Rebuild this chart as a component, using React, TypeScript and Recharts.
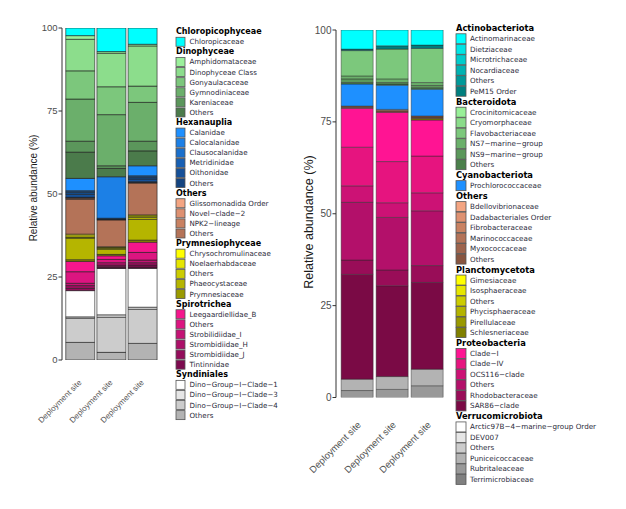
import { BarChart, Bar, XAxis, YAxis } from 'recharts'

const siteLabels = ['Deployment site', 'Deployment site', 'Deployment site']
const siteKeys = ['site1', 'site2', 'site3']
const yTicks = [0, 25, 50, 75, 100]

// left panel: eukaryotic families
const euGroups = ['Chloropicophyceae', 'Dinophyceae', 'Hexanauplia', 'Others', 'Prymnesiophyceae', 'Spirotrichea', 'Syndiniales']
const euFamilies = [
  ['Chloropicaceae'],
  ['Amphidomataceae', 'Dinophyceae Class', 'Gonyaulacaceae', 'Gymnodiniaceae', 'Kareniaceae', 'Others'],
  ['Calanidae', 'Calocalanidae', 'Clausocalanidae', 'Metridinidae', 'Oithonidae', 'Others'],
  ['Glissomonadida Order', 'Novel−clade−2', 'NPK2−lineage', 'Others'],
  ['Chrysochromulinaceae', 'Noelaerhabdaceae', 'Others', 'Phaeocystaceae', 'Prymnesiaceae'],
  ['Leegaardiellidae_B', 'Others', 'Strobilidiidae_I', 'Strombidiidae_H', 'Strombidiidae_J', 'Tintinnidae'],
  ['Dino−Group−I−Clade−1', 'Dino−Group−I−Clade−3', 'Dino−Group−I−Clade−4', 'Others'],
]
const euSite1 = [
  2.3,
  1.1, 9.5, 8.5, 12.7, 3.3, 7.9,
  3.7, 0.3, 0.3, 0.5, 0.9, 0,
  0.1, 0.2, 0.3, 10.5,
  0.5, 0.5, 0.2, 6.5, 0.5,
  3.1, 3.5, 0.7, 0.8, 0.7, 0,
  7.9, 0.4, 7.3, 5.3,
]
const euSite2 = [
  7.1,
  0.5, 10.1, 8.4, 15.4, 0.8, 2.5,
  0, 12.5, 0.2, 0.1, 0.2, 0,
  0, 0, 0, 8.1,
  0.2, 0.2, 0.3, 1.6, 0.4,
  1.1, 1.0, 0.7, 0.5, 0.3, 0.2,
  14.0, 0.7, 10.6, 2.3,
]
const euSite3 = [
  4.9,
  0.5, 12.1, 4.9, 11.7, 2.9, 4.5,
  3.0, 0.3, 0.3, 0.4, 0.8, 0.2,
  0, 0, 0.2, 9.6,
  0.3, 0.4, 0.6, 6.3, 0.6,
  3.1, 2.3, 0.8, 0.7, 0.6, 0.4,
  11.7, 0.6, 10.3, 5.0,
]
const euColors = [
  '#00FFFF',
  '#9BF09B', '#8CDD8C', '#7CC77C', '#6BAF6B', '#5B965B', '#4B7B4B',
  '#1E90FF', '#1C80E6', '#1A70CC', '#1860B3', '#165199', '#144480',
  '#F4A582', '#DE9171', '#C98262', '#B47358',
  '#FFFF00', '#E6E600', '#CCCC00', '#B5B500', '#9A9A00',
  '#F5168C', '#DC1580', '#C41374', '#AC1068', '#940D5B', '#7C0A4E',
  '#FFFFFF', '#E6E6E6', '#CCCCCC', '#B3B3B3',
]

// right panel: prokaryotic families
const proGroups = ['Actinobacteriota', 'Bacteroidota', 'Cyanobacteriota', 'Others', 'Planctomycetota', 'Proteobacteria', 'Verrucomicrobiota']
const proFamilies = [
  ['Actinomarinaceae', 'Dietziaceae', 'Microtrichaceae', 'Nocardiaceae', 'Others', 'PeM15 Order'],
  ['Crocinitomicaceae', 'Cryomorphaceae', 'Flavobacteriaceae', 'NS7−marine−group', 'NS9−marine−group', 'Others'],
  ['Prochlorococcaceae'],
  ['Bdellovibrionaceae', 'Dadabacteriales Order', 'Fibrobacteraceae', 'Marinococcaceae', 'Myxococcaceae', 'Others'],
  ['Gimesiaceae', 'Isosphaeraceae', 'Others', 'Phycisphaeraceae', 'Pirellulaceae', 'Schlesneriaceae'],
  ['Clade−I', 'Clade−IV', 'OCS116−clade', 'Others', 'Rhodobacteraceae', 'SAR86−clade'],
  ['Arctic97B−4−marine−group Order', 'DEV007', 'Others', 'Puniceicoccaceae', 'Rubritaleaceae', 'Terrimicrobiaceae'],
]
const proSite1 = [
  5.2, 0, 0, 0, 0, 0.4,
  0, 0, 6.9, 0.8, 1.0, 0.4,
  6.0,
  0, 0, 0, 0, 0.3, 0.3,
  0, 0, 0, 0, 0, 0,
  10.6, 10.5, 4.5, 15.7, 3.9, 28.5,
  0, 0, 0, 3.1, 1.9, 0,
]
const proSite2 = [
  4.3, 0, 0, 0, 0, 0.9,
  0, 0, 8.1, 1.0, 0.4, 0.3,
  6.6,
  0, 0, 0, 0, 0.4, 0.4,
  0, 0, 0, 0, 0, 0,
  13.4, 11.2, 4.0, 14.3, 4.3, 24.7,
  0, 0, 0, 3.5, 2.2, 0,
]
const proSite3 = [
  4.1, 0, 0, 0, 0, 0.9,
  0, 0, 9.3, 0.8, 0.6, 0.4,
  7.3,
  0, 0, 0, 0, 0.3, 0.4,
  0, 0, 0, 0, 0, 0.4,
  9.8, 10.0, 4.9, 14.9, 4.6, 23.6,
  0, 0, 0, 4.5, 3.2, 0,
]
const proColors = [
  '#00FFFF', '#00E5E5', '#00CCCC', '#00B2B2', '#009999', '#007F7F',
  '#98F098', '#8ADC8A', '#7CC87C', '#6BB06B', '#5B985B', '#4B804B',
  '#1E90FF',
  '#F4A582', '#DE9171', '#C98262', '#B47358', '#9E644D', '#885540',
  '#FFFF00', '#E6E600', '#CCCC00', '#B3B300', '#999900', '#808000',
  '#FF1493', '#E6147F', '#CC1275', '#B3106A', '#990D58', '#7A0A45',
  '#FFFFFF', '#E6E6E6', '#CCCCCC', '#B3B3B3', '#999999', '#808080',
]

const taxonKeys = (families: string[][]) =>
  families.flatMap((fams, g) => fams.map((f, i) => `g${g}_${i}`))

const buildRows = (families: string[][], sites: number[][]) => {
  const keys = taxonKeys(families)
  return siteKeys.map((site, s) => {
    const row: Record<string, any> = { site }
    keys.forEach((k, j) => {
      row[k] = sites[s][j]
    })
    return row
  })
}

const SiteTick = (props: any) => {
  const { x, y, index, dx, dy, size } = props
  const tx = x + dx
  const ty = y + dy
  return (
    <text
      x={tx}
      y={ty}
      transform={`rotate(-45, ${tx}, ${ty})`}
      textAnchor="end"
      fontSize={size}
      fill="#555"
    >
      {siteLabels[index]}
    </text>
  )
}

interface PanelProps {
  families: string[][]
  sites: number[][]
  colors: string[]
  margin: { top: number; right: number; bottom: number; left: number }
  yWidth: number
  padLeft: number
  gap: number
  tickSize: number
  labelSize: number
  labelDx: number
  labelDy: number
  stroke: string
  strokeWidth: number
}

const Panel = (p: PanelProps) => {
  const keys = taxonKeys(p.families)
  const rows = buildRows(p.families, p.sites)
  // ggplot stacks the first legend entry on top, so draw from the bottom up
  const order = keys.map((k, j) => j).reverse()
  return (
    <div style={{ position: 'absolute', left: 0, top: 0 }}>
      <BarChart width={626} height={509} data={rows} margin={p.margin} barCategoryGap={p.gap}>
        <XAxis
          dataKey="site"
          height={20}
          axisLine={false}
          tickLine={false}
          tickSize={0}
          tickMargin={0}
          interval={0}
          padding={{ left: p.padLeft, right: 0 }}
          tick={(t: any) => (
            <SiteTick {...t} dx={p.labelDx} dy={p.labelDy} size={p.labelSize} />
          )}
        />
        <YAxis
          type="number"
          width={p.yWidth}
          domain={[0, 100]}
          allowDataOverflow
          ticks={yTicks}
          interval={0}
          tickSize={3.5}
          tickMargin={1}
          axisLine={{ stroke: '#333' }}
          tickLine={{ stroke: '#333' }}
          tick={{ fill: '#4D4D4D', fontSize: p.tickSize }}
        />
        {order.map((j) => (
          <Bar
            key={keys[j]}
            dataKey={keys[j]}
            stackId="a"
            fill={p.colors[j]}
            stroke={p.stroke}
            strokeWidth={p.strokeWidth}
            isAnimationActive={false}
          />
        ))}
      </BarChart>
    </div>
  )
}

interface LegendProps {
  groups: string[]
  families: string[][]
  colors: string[]
  x: number
  y0: number
  pitch: number
  box: number
  textX: number
  titleSize: number
  itemSize: number
}

const GroupLegend = (p: LegendProps) => {
  const out: any[] = []
  let r = 0
  let c = 0
  p.groups.forEach((g, gi) => {
    const ty = p.y0 + r * p.pitch
    out.push(
      <text key={`t${gi}`} x={p.x} y={ty} dominantBaseline="central" fontSize={p.titleSize} fontWeight="bold" fill="#000">
        {g}
      </text>
    )
    r++
    p.families[gi].forEach((f, fi) => {
      const y = p.y0 + r * p.pitch
      out.push(
        <g key={`f${gi}_${fi}`}>
          <rect x={p.x} y={y - p.box / 2} width={p.box} height={p.box} fill={p.colors[c]} stroke="#555" strokeWidth={0.8} />
          <text x={p.textX} y={y} dominantBaseline="central" fontSize={p.itemSize} fill="#2a2a3a">
            {f}
          </text>
        </g>
      )
      r++
      c++
    })
  })
  return <g style={{ fontFamily: "'DejaVu Sans', Verdana, sans-serif" }}>{out}</g>
}

export default function App() {
  return (
    <div
      style={{
        position: 'absolute',
        left: 0,
        top: 0,
        width: 626,
        height: 509,
        background: '#fff',
        fontFamily: "'Liberation Sans', Arial, sans-serif",
      }}
    >
      <Panel
        families={euFamilies}
        sites={[euSite1, euSite2, euSite3]}
        colors={euColors}
        margin={{ top: 28, right: 468, bottom: 129, left: 0 }}
        yWidth={62}
        padLeft={2.5}
        gap={1.25}
        tickSize={9.5}
        labelSize={8}
        labelDx={2}
        labelDy={23}
        stroke="#1a1a1a"
        strokeWidth={0.6}
      />
      <Panel
        families={proFamilies}
        sites={[proSite1, proSite2, proSite3]}
        colors={proColors}
        margin={{ top: 30, right: 181.5, bottom: 91.5, left: 300 }}
        yWidth={36}
        padLeft={3.5}
        gap={1.65}
        tickSize={10}
        labelSize={9.5}
        labelDx={4.5}
        labelDy={28}
        stroke="rgba(40,40,40,0.55)"
        strokeWidth={0.8}
      />
      <svg width={626} height={509} style={{ position: 'absolute', left: 0, top: 0, pointerEvents: 'none' }}>
        <text transform="translate(33.5,188) rotate(-90)" textAnchor="middle" dominantBaseline="central" fontSize={10} fill="#1a1a1a">
          Relative abundance (%)
        </text>
        <text transform="translate(308.5,222) rotate(-90)" textAnchor="middle" dominantBaseline="central" fontSize={12.5} fill="#1a1a1a">
          Relative abundance (%)
        </text>
        <GroupLegend
          groups={euGroups}
          families={euFamilies}
          colors={euColors}
          x={176}
          y0={31.7}
          pitch={10.09}
          box={9}
          textX={189.5}
          titleSize={8}
          itemSize={7.1}
        />
        <GroupLegend
          groups={proGroups}
          families={proFamilies}
          colors={proColors}
          x={456}
          y0={28.3}
          pitch={10.49}
          box={10}
          textX={470}
          titleSize={8.3}
          itemSize={7.2}
        />
      </svg>
    </div>
  )
}
